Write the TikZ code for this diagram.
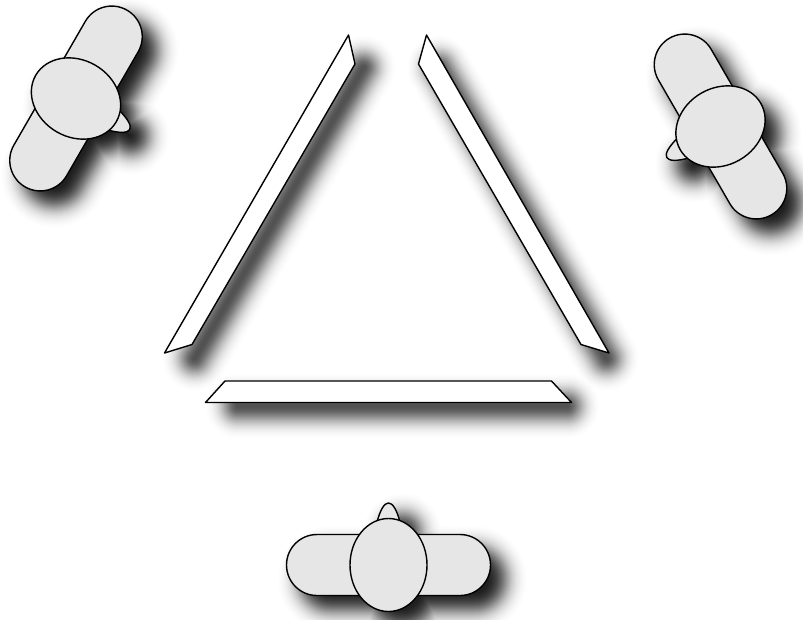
\documentclass[tikz,border=0pt]{standalone}
\definecolor{bodygray}{HTML}{E6E6E6}
\tikzset{
  x=0.75pt,y=-0.75pt,
  outline/.style={draw=black,line width=1.05pt,line join=round},
  bodyfill/.style={outline,fill=bodygray},
  barfill/.style={outline,fill=white},
  shadowpen/.style={draw=black!#1,fill=black!#1,line join=round,line cap=round,nonzero rule,blend mode=darken},
}
% shadow of a person: grey bands around a shrunken silhouette, darkest inside
\newcommand{\personshadow}[3]{% cx, cy, rotation
  \begin{scope}[shift={(#1+14,#2+14)},rotate=#3]
  \foreach \s in {38,37,...,0}{
    \pgfmathsetmacro{\pct}{max(0,97/(1+exp((\s-17)/6.5))-3)}
    \pgfmathsetmacro{\lw}{max(0.1,1.5*\s)}
    \path[shadowpen=\pct,line width=\lw pt]
      (-71.5,14.5) -- (71.5,14.5) arc[start angle=-90,end angle=90,x radius=14.5,y radius=-14.5]
      -- (-71.5,-14.5) arc[start angle=90,end angle=270,x radius=14.5,y radius=-14.5] -- cycle
      (22.5,0) arc[start angle=0,end angle=360,x radius=22.5,y radius=-30.5] -- cycle
      (0,-30) -- (0,-47);
  }
  \end{scope}
}
\newcommand{\person}[3]{% cx, cy, rotation
  \begin{scope}[shift={(#1,#2)},rotate=#3]
    \path[bodyfill] (11.5,-43) .. controls (8,-56) and (4,-62) .. (0,-62) .. controls (-4,-62) and (-8,-56) .. (-11.5,-43) -- cycle;
    \path[bodyfill] (-71.5,30.5) -- (71.5,30.5) arc[start angle=-90,end angle=90,x radius=30.5,y radius=-30.5]
      -- (-71.5,-30.5) arc[start angle=90,end angle=270,x radius=30.5,y radius=-30.5] -- cycle;
    \path[bodyfill] (0,0) ellipse[x radius=38.5,y radius=46.5];
  \end{scope}
}
% shadow of a bar: grey bands around its centre line
\newcommand{\barshadow}[4]{% x1,y1,x2,y2
  \foreach \s in {32,31,...,0}{
    \pgfmathsetmacro{\pct}{max(0,70*exp(-\s*\s/300)-2)}
    \pgfmathsetmacro{\lw}{max(0.1,1.5*\s)}
    \path[shadowpen=\pct,line width=\lw pt] (#1+14,#2+14) -- (#3+14,#4+14);
  }
}
\begin{document}
\begin{tikzpicture}
\useasboundingbox (0,0) rectangle (803,619);
\clip (0,0) rectangle (803,619);
\fill[white] (0,0) rectangle (803,619);
\barshadow{349.25}{53.8}{180.75}{344.4}
\barshadow{425}{53.8}{592.5}{344.4}
\barshadow{224}{392}{553}{392}
\path[barfill] (348.5,35) -- (164.5,353) -- (192,344.5) -- (355,64) -- cycle;
\path[barfill] (426.5,35) -- (418.5,64) -- (581,344.5) -- (609,353) -- cycle;
\path[barfill] (225,381) -- (205.5,402.5) -- (571.5,402.5) -- (551.5,381) -- cycle;
\personshadow{76}{98.5}{-120}
\personshadow{720.5}{126.5}{120}
\personshadow{388.5}{565}{0}
\person{76}{98.5}{-120}
\person{720.5}{126.5}{120}
\person{388.5}{565}{0}
\end{tikzpicture}
\end{document}
